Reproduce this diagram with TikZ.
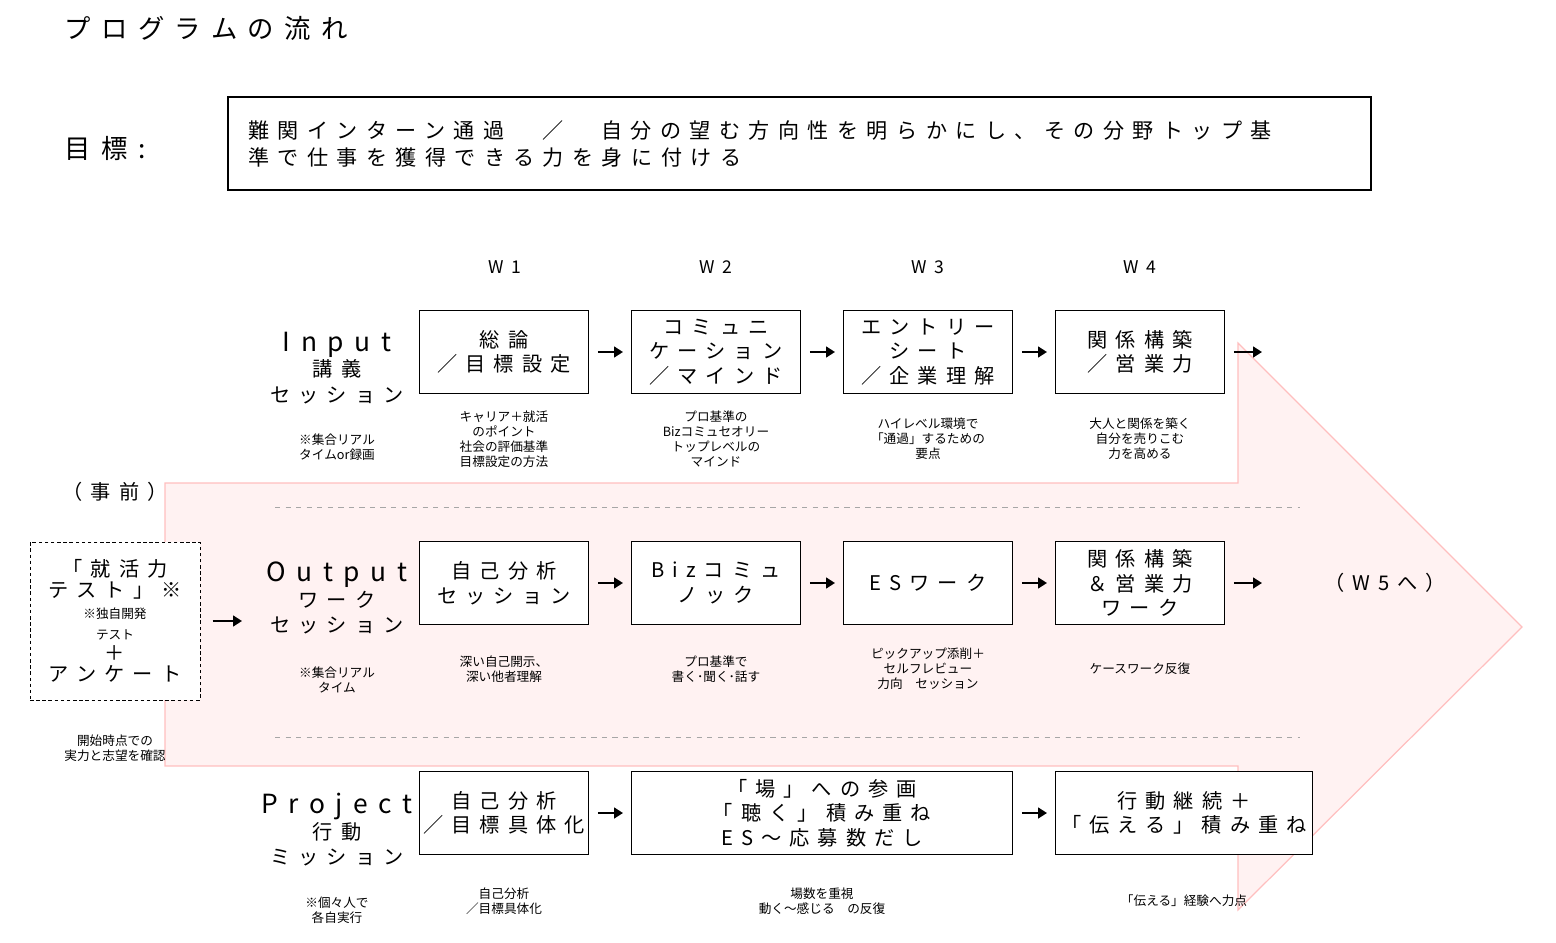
\documentclass[tikz,border=0pt]{standalone}
\usepackage{fontspec}
\setmainfont{Noto Sans CJK JP}
\newfontfamily\jpwide[LetterSpace=40]{Noto Sans CJK JP}
\newcommand\bigjp{\jpwide\fontsize{11.5}{14}\selectfont}
\newcommand\smalljp{\normalfont\fontsize{7.2}{8.6}\selectfont}
\usetikzlibrary{arrows.meta,positioning}
\tikzset{
  stagebox/.style={draw, fill=white, line width=0.7pt, minimum width=3.38cm, minimum height=1.66cm, align=center, font=\bigjp, inner sep=0pt},
  rowhead/.style={align=center, font=\jpwide\fontsize{11.5}{14.5}\selectfont},
  note/.style={align=center, font=\smalljp},
  week/.style={font=\jpwide\fontsize{10}{12}\selectfont},
  flow/.style={-{Triangle[length=5pt,width=6pt]}, line width=1.2pt, shorten <=5pt, shorten >=4.5pt},
  sep/.style={gray!70, dashed, line width=0.5pt}
}
\begin{document}
\begin{tikzpicture}[x=0.02cm,y=-0.02cm]
\useasboundingbox (0,0) rectangle (1556,943);
% big arrow in the background
\fill[red!5, draw=red!25, line width=0.7pt] (165,483) -- (1238,483) -- (1238,343) -- (1522,627) -- (1238,910) -- (1238,766) -- (165,766) -- cycle;
\node[anchor=west, font=\jpwide\fontsize{15}{18}\selectfont] (title) at (58,28) {プログラムの流れ};
\node[font=\jpwide\fontsize{15}{18}\selectfont] (goallabel) at (105,148) {目標:};
\draw[line width=0.7pt] (228,97) rectangle (1371,190);
\node[anchor=west, align=left, font=\jpwide\fontsize{12}{15.5}\selectfont] (goal) at (242,144) {難関インターン通過　／　自分の望む方向性を明らかにし、その分野トップ基\\準で仕事を獲得できる力を身に付ける};
% weeks
\foreach \w/\x in {1/505,2/716,3/928,4/1140}
  \node[week] (w\w) at (\x,267) {W\w};
% rows
\node[rowhead] (inhead) at (337,368) {\fontsize{15}{18}\selectfont Input\\講義\\セッション};
\node[note] (innote) at (337,447) {※集合リアル\\タイムor録画};
\node[rowhead] (outhead) at (337,598) {\fontsize{15}{18}\selectfont Output\\ワーク\\セッション};
\node[note] (outnote) at (337,680) {※集合リアル\\タイム};
\node[rowhead] (prjhead) at (337,830) {\fontsize{15}{18}\selectfont Project\\行動\\ミッション};
\node[note] (prjnote) at (337,910) {※個々人で\\各自実行};
\node[rowhead] (pre) at (115,492) {（事前）};
\node[stagebox, dashed, dash pattern=on 2pt off 1.5pt, line width=0.5pt, minimum width=3.4cm, minimum height=3.16cm] (test) at (115,621) {};
\node[align=center] (testtext) at (115,621) {\bigjp 「就活力\\\bigjp テスト」※\\\smalljp ※独自開発\\\smalljp テスト\\\bigjp ＋\\\bigjp アンケート};
\node[note] (testnote) at (115,748) {開始時点での\\実力と志望を確認};
\coordinate (testend) at (242,621);
% input row
\node[stagebox] (in1) at (504,352) {総論\\／目標設定};
\node[stagebox] (in2) at (716,352) {コミュニ\\ケーション\\／マインド};
\node[stagebox] (in3) at (928,352) {エントリー\\シート\\／企業理解};
\node[stagebox] (in4) at (1140,352) {関係構築\\／営業力};
\coordinate (inend) at (1262,352);
\node[note] (in1n) at (504,439) {キャリア＋就活\\のポイント\\社会の評価基準\\目標設定の方法};
\node[note] (in2n) at (716,439) {プロ基準の\\Bizコミュセオリー\\トップレベルの\\マインド};
\node[note] (in3n) at (928,439) {ハイレベル環境で\\「通過」するための\\要点};
\node[note] (in4n) at (1140,439) {大人と関係を築く\\自分を売りこむ\\力を高める};
% output row
\node[stagebox] (out1) at (504,583) {自己分析\\セッション};
\node[stagebox] (out2) at (716,583) {Bizコミュ\\ノック};
\node[stagebox] (out3) at (928,583) {ESワーク};
\node[stagebox] (out4) at (1140,583) {関係構築\\＆営業力\\ワーク};
\coordinate (outend) at (1262,583);
\node[rowhead] (w5) at (1385,583) {（W5へ）};
\node[note] (out1n) at (504,669) {深い自己開示、\\深い他者理解};
\node[note] (out2n) at (716,669) {プロ基準で\\書く･聞く･話す};
\node[note] (out3n) at (928,669) {ピックアップ添削＋\\セルフレビュー\\力向　セッション};
\node[note] (out4n) at (1140,669) {ケースワーク反復};
% project row
\node[stagebox] (prj1) at (504,813) {自己分析\\／目標具体化};
\node[stagebox, minimum width=7.62cm] (prj2) at (822,813) {「場」への参画\\「聴く」積み重ね\\ES～応募数だし};
\node[stagebox, minimum width=5.14cm] (prj3) at (1184,813) {行動継続＋\\「伝える」積み重ね};
\node[note] (prj1n) at (504,901) {自己分析\\／目標具体化};
\node[note] (prj2n) at (822,901) {場数を重視\\動く～感じる　の反復};
\node[note] (prj3n) at (1184,901) {「伝える」経験へ力点};
% separators
\draw[sep] (275,507) -- (1300,507);
\draw[sep] (275,737) -- (1300,737);
% flow arrows
\draw[flow, shorten <=7pt, shorten >=0pt] (test.east) -- (testend);
\foreach \a/\b in {in1/in2,in2/in3,in3/in4,out1/out2,out2/out3,out3/out4,prj1/prj2,prj2/prj3}
  \draw[flow] (\a.east) -- (\b.west);
\draw[flow, shorten >=0pt] (in4.east) -- (inend);
\draw[flow, shorten >=0pt] (out4.east) -- (outend);
\end{tikzpicture}
\end{document}
